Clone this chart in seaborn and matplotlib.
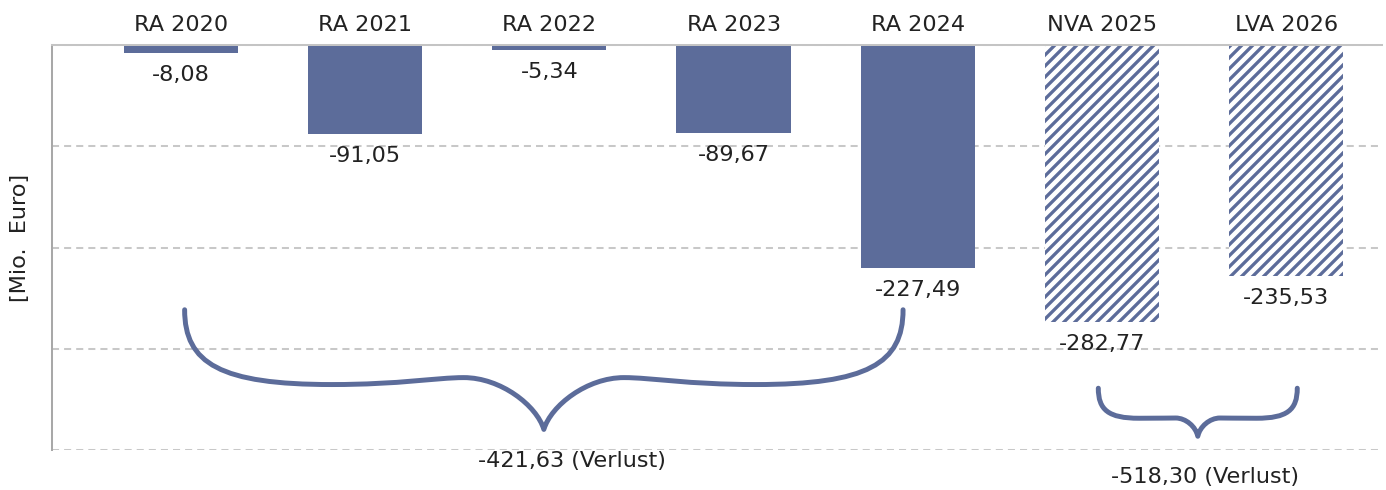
import numpy as np
import pandas as pd
import matplotlib
matplotlib.use("Agg")
import matplotlib.pyplot as plt
import seaborn as sns
from matplotlib.path import Path
from matplotlib.patches import PathPatch

# ---- data ----
categories = ["RA 2020", "RA 2021", "RA 2022", "RA 2023", "RA 2024", "NVA 2025", "LVA 2026"]
values = [-8.08, -91.05, -5.34, -89.67, -227.49, -282.77, -235.53]
kinds = ["Ist", "Ist", "Ist", "Ist", "Ist", "Plan", "Plan"]
group_ist = [0, 1, 2, 3, 4]
group_plan = [5, 6]
y_label = "[Mio.  Euro]"
sum_suffix = " (Verlust)"

def de_fmt(v):
    return f"{v:.2f}".replace(".", ",")

BAR_COLOR = "#5c6c9a"
TEXT_COLOR = "#222222"
DPI = 132
W, H = 1386, 490

sns.set_style("white")
plt.rcParams["font.family"] = ["DejaVu Sans"]
plt.rcParams["hatch.linewidth"] = 1.8
plt.rcParams["hatch.color"] = BAR_COLOR

fig = plt.figure(figsize=(W / DPI, H / DPI), dpi=DPI)
ax = fig.add_axes([52 / W, 1 - 450 / H, (1382 - 52) / W, (450 - 45) / H])

df = pd.DataFrame({"Jahr": categories, "Wert": values, "Art": kinds})
sns.barplot(data=df, x="Jahr", y="Wert", color=BAR_COLOR, saturation=1,
            width=0.62, errorbar=None, ax=ax, zorder=2)

for patch, kind in zip(ax.patches, kinds):
    patch.set_linewidth(0)
    if kind == "Plan":
        patch.set_facecolor("white")
        patch.set_edgecolor(BAR_COLOR)
        patch.set_hatch("////")

Y_MIN = -413
ax.set_ylim(Y_MIN, 0)
ax.set_xlim(-0.70, 6.52)
ax.set_yticks(np.linspace(Y_MIN, 0, 5))
ax.yaxis.grid(True, linestyle=(0, (3.5, 2.5)), color="#c8c8c8", linewidth=1.1)
ax.set_axisbelow(True)
ax.tick_params(axis="y", length=0, labelleft=False)
ax.set_ylabel("")
ax.set_xlabel("")
ax.xaxis.tick_top()
ax.tick_params(axis="x", length=0, pad=5.5, labelsize=12.2, labelcolor=TEXT_COLOR)

for side in ["right", "bottom"]:
    ax.spines[side].set_visible(False)
ax.spines["top"].set_color("#c4c4c4")
ax.spines["top"].set_linewidth(1.1)
ax.spines["left"].set_color("#a8a8a8")
ax.spines["left"].set_linewidth(1.1)

# value labels below bars
for i, v in enumerate(values):
    ax.annotate(de_fmt(v), xy=(i, v), xytext=(0, -12), textcoords="offset points",
                ha="center", va="center", fontsize=12.2, color=TEXT_COLOR)

# curly braces (normalised left half; right half mirrored)
def half_shape(bump):
    return [((0, 0), (0, 0.45), (0.1, 0.625), (0.41, 0.625)),
            ((0.41, 0.625), (0.6, 0.625), (0.7, bump), (0.777, bump)),
            ((0.777, bump), (0.88, bump), (0.98, 0.8), (1, 1))]

def draw_brace(x0, x1, ytop, ytip, bump):
    half = half_shape(bump)
    xt = (x0 + x1) / 2
    def L(p):
        return (x0 + p[0] * (xt - x0), ytop + p[1] * (ytip - ytop))
    def R(p):
        return (x1 - p[0] * (x1 - xt), ytop + p[1] * (ytip - ytop))
    verts = [L(half[0][0])]
    codes = [Path.MOVETO]
    for seg in half:
        verts += [L(seg[1]), L(seg[2]), L(seg[3])]
        codes += [Path.CURVE4] * 3
    for seg in reversed(half):
        verts += [R(seg[2]), R(seg[1]), R(seg[0])]
        codes += [Path.CURVE4] * 3
    patch = PathPatch(Path(verts, codes), fill=False, edgecolor=BAR_COLOR,
                      linewidth=2.7, capstyle="round", joinstyle="round",
                      transform=ax.transData, clip_on=False, zorder=3)
    ax.add_patch(patch)

draw_brace(group_ist[0] + 0.02, group_ist[-1] - 0.08, -270, -392, 0.567)
draw_brace(group_plan[0] - 0.02, group_plan[-1] + 0.06, -350, -399, 0.62)

sum_ist = sum(values[i] for i in group_ist)
sum_plan = sum(values[i] for i in group_plan)
ax.text(2.12, -424, de_fmt(sum_ist) + sum_suffix, ha="center", va="center",
        fontsize=12.2, color=TEXT_COLOR, clip_on=False)
ax.text(5.56, -441, de_fmt(sum_plan) + sum_suffix, ha="center", va="center",
        fontsize=12.2, color=TEXT_COLOR, clip_on=False)

fig.text(20 / W, 1 - 238 / H, y_label, rotation=90, ha="center", va="center",
         fontsize=12.2, color=TEXT_COLOR)

fig.savefig("out.png", dpi=DPI, facecolor="white")
